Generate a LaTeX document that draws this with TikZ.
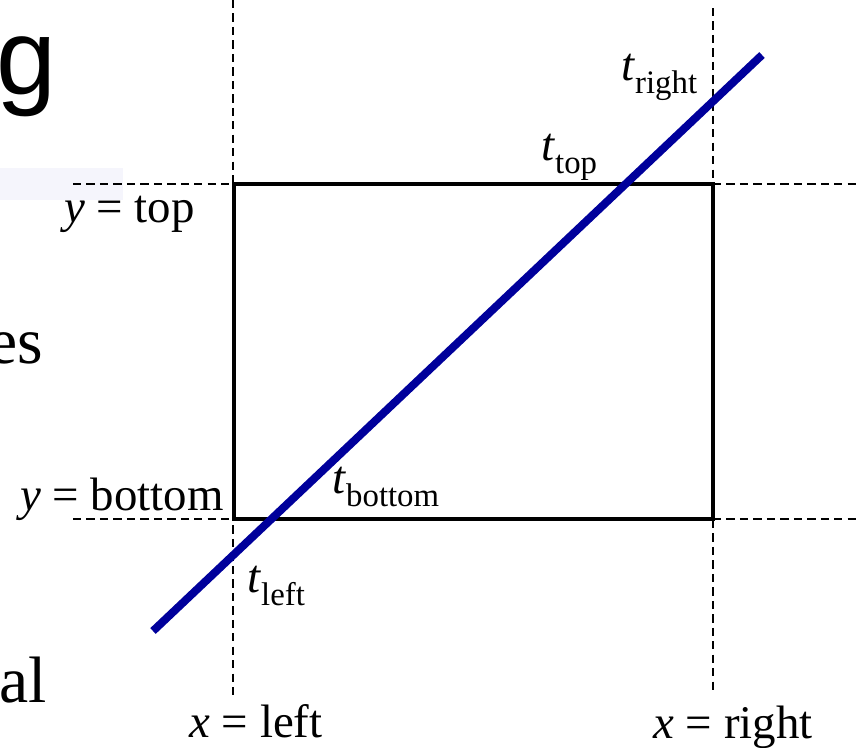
\documentclass[tikz,border=0pt]{standalone}
\usepackage{fontspec}
\setmainfont{Liberation Serif}
\newfontfamily\titlefont{Liberation Sans}
\usetikzlibrary{positioning}
\definecolor{linecol}{RGB}{0,0,155}
\definecolor{slidetint}{RGB}{245,245,252}
\newcommand{\tparam}[1]{\textit{t}\raisebox{-0.28em}{\fontsize{28}{30}\selectfont #1}}

\begin{document}
\begin{tikzpicture}[
    x=0.03cm, y=-0.03cm,
    label/.style={font=\fontsize{40}{48}\selectfont, inner sep=0pt},
    body/.style={font=\fontsize{56}{66}\selectfont, inner sep=0pt},
    guide/.style={line width=1.2pt, dash pattern=on 7pt off 4.5pt},
    window/.style={draw, line width=3pt},
    segment/.style={line width=6.8pt, draw=linecol}
]
    \useasboundingbox (0,0) rectangle (857,748);

    % --- SLIDE LEFTOVERS ---
    \fill [slidetint] (0,168) rectangle (123,200);
    \node (title_g) [anchor=base east, inner sep=0pt, font=\titlefont\fontsize{92}{100}\selectfont] at (57,94) {g};
    \node (word_es) [body, anchor=base east] at (43,363) {es};
    \node (word_al) [body, anchor=base east] at (47,702) {al};

    % --- CLIP WINDOW ---
    \coordinate (win_tl) at (234,184);
    \coordinate (win_br) at (713,519);
    \draw [window] (win_tl) rectangle (win_br);

    % --- GUIDES ---
    \coordinate (left_top) at (233,0);
    \coordinate (left_end) at (233,697);
    \coordinate (right_top) at (713,8);
    \coordinate (right_end) at (713,695);
    \coordinate (top_start) at (73,184);
    \coordinate (top_end) at (857,184);
    \coordinate (bot_start) at (73,519);
    \coordinate (bot_end) at (857,519);
    \draw [guide] (left_top) -- (left_end);
    \draw [guide] (right_top) -- (right_end);
    \draw [guide] (top_start) -- (win_tl);
    \draw [guide] (win_tl -| win_br) -- (top_end);
    \draw [guide] (bot_start) -- (win_tl |- win_br);
    \draw [guide] (win_br) -- (bot_end);

    % --- EDGE LABELS ---
    \node (y_top) [label, anchor=base east] at (195,222) {\textit{y} = top};
    \node (y_bottom) [label, anchor=base east] at (224,510) {\textit{y} = bottom};
    \node (x_left) [label, anchor=base] at (256,737) {\textit{x} = left};
    \node (x_right) [label, anchor=base] at (733,738) {\textit{x} = right};

    % --- LINE SEGMENT ---
    \coordinate (seg_start) at (153,631);
    \coordinate (seg_end) at (762,55);
    \draw [segment] (seg_start) -- (seg_end);

    % --- INTERSECTION LABELS ---
    \node (t_right) [label, anchor=base west] at (621,80) {\tparam{right}};
    \node (t_top) [label, anchor=base west] at (541,160) {\tparam{top}};
    \node (t_bottom) [label, anchor=base west] at (332,493) {\tparam{bottom}};
    \node (t_left) [label, anchor=base west] at (247,592) {\tparam{left}};

\end{tikzpicture}
\end{document}
